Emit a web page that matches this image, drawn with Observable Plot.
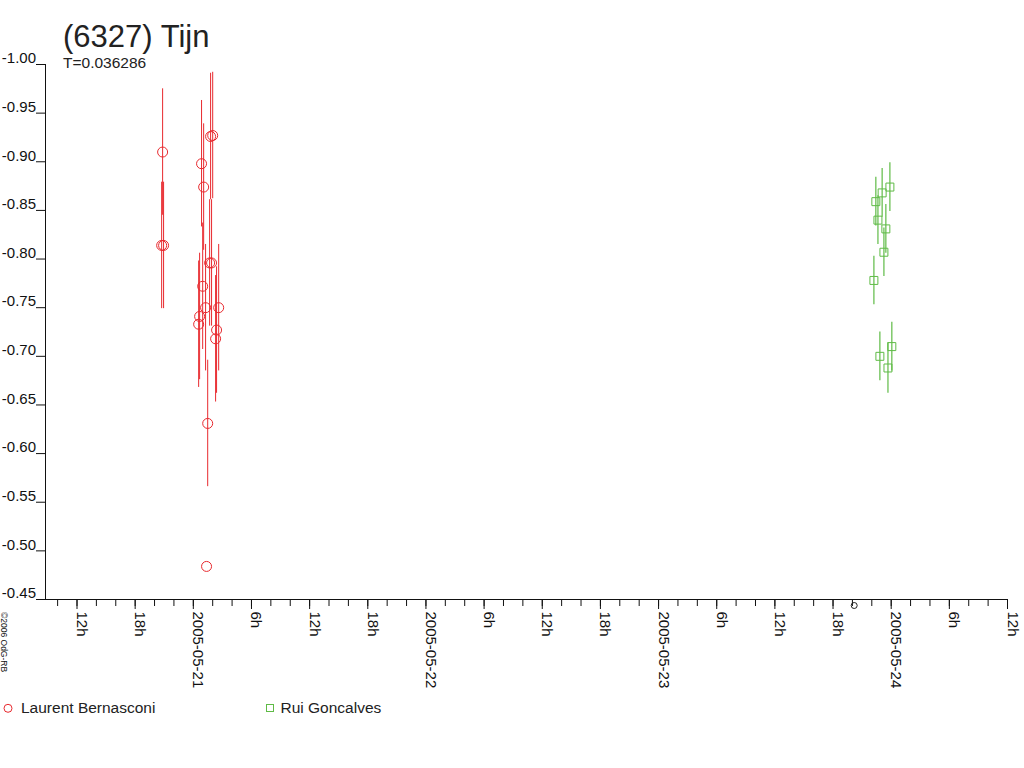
<!DOCTYPE html>
<html>
<head>
<meta charset="utf-8">
<script src="https://cdn.jsdelivr.net/npm/d3@7"></script>
<script src="https://cdn.jsdelivr.net/npm/@observablehq/plot@0.6"></script>
<style>
  body { margin: 0; background: #fff; font-family: "Liberation Sans", Arial, sans-serif; }
  #wrap { position: relative; width: 1024px; height: 768px; overflow: hidden; background: #fff; }
  #chart { position: absolute; left: 0; top: 0; }
  #overlay { position: absolute; left: 0; top: 0; pointer-events: none; }
</style>
</head>
<body>
<div id="wrap">
  <div id="chart"></div>
  <svg id="overlay" width="1024" height="768" font-family="Liberation Sans, Arial, sans-serif">
    <text x="63" y="47" font-size="31" fill="#222">(6327) Tijn</text>
    <text x="63" y="68" font-size="15.5" fill="#222">T=0.036286</text>
    <circle cx="8" cy="708.3" r="4" fill="none" stroke="#e8292e" stroke-width="1"></circle>
    <text x="21" y="713" font-size="15.5" fill="#222">Laurent Bernasconi</text>
    <rect x="266.5" y="704.5" width="7" height="7" fill="none" stroke="#5fbb46" stroke-width="1"></rect>
    <text x="280.5" y="713" font-size="15.5" fill="#222">Rui Goncalves</text>
    <text transform="translate(1,612) rotate(90)" font-size="8.5" fill="#111">©2006 OdG-RB</text>
  </svg>
</div>
<script>
// ---- Data ----
const laurentTimes = [
  "2005-05-20T20:44Z", "2005-05-20T20:50Z", "2005-05-20T20:56Z",
  "2005-05-21T00:33Z", "2005-05-21T00:39Z", "2005-05-21T00:51Z",
  "2005-05-21T00:58Z", "2005-05-21T01:04Z", "2005-05-21T01:16Z",
  "2005-05-21T01:22Z", "2005-05-21T01:29Z", "2005-05-21T01:41Z",
  "2005-05-21T01:47Z", "2005-05-21T01:53Z", "2005-05-21T02:00Z",
  "2005-05-21T02:18Z", "2005-05-21T02:24Z", "2005-05-21T02:37Z"
];
const laurentValues = [
  -0.814, -0.910, -0.814,
  -0.733, -0.741, -0.898,
  -0.772, -0.874, -0.750,
  -0.484, -0.631, -0.796,
  -0.926, -0.796, -0.927,
  -0.718, -0.727, -0.750
];
const laurentErrors = [
  0.065, 0.065, 0.065,
  0.065, 0.065, 0.065,
  0.065, 0.065, 0.065,
  0.000, 0.065, 0.065,
  0.065, 0.065, 0.065,
  0.065, 0.065, 0.065
];

const ruiTimes = [
  "2005-05-23T22:13Z", "2005-05-23T22:25Z", "2005-05-23T22:38Z",
  "2005-05-23T22:50Z", "2005-05-23T23:04Z", "2005-05-23T23:15Z",
  "2005-05-23T23:27Z", "2005-05-23T23:40Z", "2005-05-23T23:52Z",
  "2005-05-24T00:04Z"
];
const ruiValues = [
  -0.778, -0.859, -0.840,
  -0.700, -0.868, -0.807,
  -0.831, -0.688, -0.874,
  -0.710
];
const ruiErrors = [
  0.025, 0.025, 0.025,
  0.025, 0.025, 0.025,
  0.025, 0.026, 0.025,
  0.025
];

const extraMarkerTimes = ["2005-05-23T20:11Z"];

const yTickValues = [-1.00, -0.95, -0.90, -0.85, -0.80, -0.75, -0.70, -0.65, -0.60, -0.55, -0.50, -0.45];

const xMajorTickTimes = [
  "2005-05-20T12:00Z", "2005-05-20T18:00Z", "2005-05-21T00:00Z", "2005-05-21T06:00Z",
  "2005-05-21T12:00Z", "2005-05-21T18:00Z", "2005-05-22T00:00Z", "2005-05-22T06:00Z",
  "2005-05-22T12:00Z", "2005-05-22T18:00Z", "2005-05-23T00:00Z", "2005-05-23T06:00Z",
  "2005-05-23T12:00Z", "2005-05-23T18:00Z", "2005-05-24T00:00Z", "2005-05-24T06:00Z",
  "2005-05-24T12:00Z"
];
const xMajorTickLabels = [
  "12h", "18h", "2005-05-21", "6h",
  "12h", "18h", "2005-05-22", "6h",
  "12h", "18h", "2005-05-23", "6h",
  "12h", "18h", "2005-05-24", "6h",
  "12h"
];
const xDomain = ["2005-05-20T08:45Z", "2005-05-24T12:00Z"];

// ---- Build tables ----
const red = "#e8292e";
const green = "#5fbb46";
const laurent = laurentTimes.map((t, i) => ({t: new Date(t), v: laurentValues[i], e: laurentErrors[i]}));
const rui = ruiTimes.map((t, i) => ({t: new Date(t), v: ruiValues[i], e: ruiErrors[i]}));
const majors = xMajorTickTimes.map((t, i) => ({t: new Date(t), label: xMajorTickLabels[i]}));
const dom = xDomain.map(d => new Date(d));
const minors = d3.utcHour.every(2).range(new Date("2005-05-20T10:00Z"), new Date("2005-05-24T12:00:01Z"));
const extras = extraMarkerTimes.map(d => new Date(d));

const chart = Plot.plot({
  width: 1024,
  height: 768,
  marginLeft: 45,
  marginRight: 17,
  marginTop: 64,
  marginBottom: 169,
  style: {fontFamily: "Liberation Sans, Arial, sans-serif", fontSize: "15px", color: "#111", background: "#fff"},
  x: {type: "utc", domain: dom, axis: null, label: null},
  y: {domain: [-1.00, -0.45], reverse: true, axis: null, label: null},
  marks: [
    Plot.axisY(yTickValues, {anchor: "left", label: null, tickSize: 9, tickFormat: () => "", stroke: "#111"}),
    Plot.axisY(yTickValues, {anchor: "left", label: null, tickSize: 0, tickPadding: 9.5, dy: -6, fontSize: 15, tickFormat: d => d.toFixed(2), fill: "#111"}),
    Plot.axisX(minors, {anchor: "bottom", label: null, tickSize: 7, tickFormat: () => "", stroke: "#111"}),
    Plot.axisX(majors.map(d => d.t), {anchor: "bottom", label: null, tickSize: 10, tickFormat: () => "", stroke: "#111"}),
    Plot.text(majors, {x: "t", text: "label", frameAnchor: "bottom", rotate: 90, textAnchor: "start", lineAnchor: "bottom", dy: 12, fontSize: 15, fill: "#111"}),
    Plot.frame({anchor: "left", stroke: "#111"}),
    Plot.frame({anchor: "bottom", stroke: "#111"}),
    Plot.ruleX(laurent.filter(d => d.e > 0), {x: "t", y1: d => d.v - d.e, y2: d => d.v + d.e, stroke: red, strokeWidth: 1}),
    Plot.ruleX(rui, {x: "t", y1: d => d.v - d.e, y2: d => d.v + d.e, stroke: green, strokeWidth: 1.2}),
    Plot.dot(laurent, {x: "t", y: "v", r: 5, stroke: red, strokeWidth: 1, fill: "none"}),
    Plot.dot(rui, {x: "t", y: "v", r: 4.5, symbol: "square", stroke: green, strokeWidth: 1, fill: "none"}),
    Plot.dot(extras, {x: d => d, frameAnchor: "bottom", dy: 6, r: 3, stroke: "#222", strokeWidth: 1, fill: "none"})
  ]
});
document.getElementById("chart").appendChild(chart);
</script>
</body>
</html>
